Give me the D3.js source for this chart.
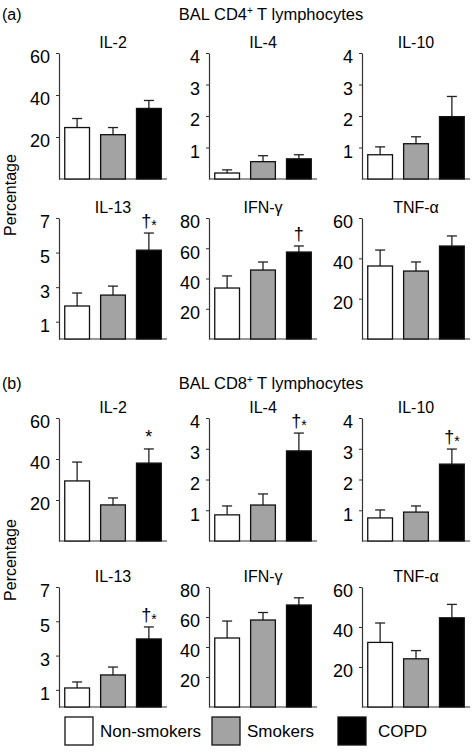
<!DOCTYPE html>
<html><head><meta charset="utf-8">
<script src="https://cdn.jsdelivr.net/npm/d3@7"></script>
<style>
body{margin:0;background:#fff}
text{font-family:"Liberation Sans",Arial,Helvetica,sans-serif;fill:#000}
</style>
</head><body>
<svg id="chart" width="473" height="754"></svg>
<script>
const groups = ["Non-smokers", "Smokers", "COPD"];
const cytokines = ["IL-2", "IL-4", "IL-10", "IL-13", "IFN-γ", "TNF-α"];
const yMax = [60, 4, 4, 7, 80, 60];
const tickValues = [[20,40,60],[1,2,3,4],[1,2,3,4],[1,3,5,7],[20,40,60,80],[20,40,60]];

// BAL CD4+ T lymphocytes (a)
const cd4Mean = [[24.5,21.1,33.6],[0.19,0.55,0.64],[0.77,1.12,1.98],[1.91,2.54,5.14],[33.7,45.6,57.5],[36.2,33.7,46.1]];
const cd4Sem  = [[4.3,3.4,3.8],[0.10,0.19,0.13],[0.25,0.22,0.64],[0.75,0.52,0.99],[8.0,5.3,4.0],[7.9,4.5,5.0]];
const cd4Marks = ["", "", "", "†*", "†", ""];

// BAL CD8+ T lymphocytes (b)
const cd8Mean = [[29.3,17.6,38.0],[0.85,1.17,2.93],[0.75,0.94,2.50],[1.11,1.87,3.97],[46.0,58.0,68.0],[32.3,24.1,44.6]];
const cd8Sem  = [[9.2,3.4,6.9],[0.29,0.36,0.58],[0.26,0.20,0.49],[0.35,0.46,0.70],[11.3,5.0,4.8],[9.7,4.1,6.7]];
const cd8Marks = ["*", "†*", "†*", "†*", "", ""];

const fills = ["#ffffff", "#a3a3a3", "#000000"];

const svg = d3.select("#chart");
const colX = [59, 209, 362];
const axisLen = 108;
const rows = [[53,179],[218,339],[418,541],[587,707]];

const panels = [
  {label:"(a)", title:["BAL CD4", "+", " T lymphocytes"], mean:cd4Mean, sem:cd4Sem, marks:cd4Marks, ty:20, rowOff:0, pctY:195},
  {label:"(b)", title:["BAL CD8", "+", " T lymphocytes"], mean:cd8Mean, sem:cd8Sem, marks:cd8Marks, ty:389, rowOff:2, pctY:560}
];

panels.forEach(P => {
  svg.append("text").attr("x", 2).attr("y", P.ty).attr("font-size", 16).text(P.label);
  const t = svg.append("text").attr("x", 271).attr("y", P.ty).attr("font-size", 16.5).attr("text-anchor","middle");
  t.append("tspan").text(P.title[0]);
  t.append("tspan").attr("font-size", 10).attr("dy", -6).text(P.title[1]);
  t.append("tspan").attr("dy", 6).text(P.title[2]);
  svg.append("text").attr("transform", `translate(16,${P.pctY}) rotate(-90)`)
    .attr("text-anchor","middle").attr("font-size", 16).text("Percentage");

  cytokines.forEach((cy, i) => {
    const r = rows[P.rowOff + Math.floor(i/3)];
    const ax = colX[i % 3];
    const y = d3.scaleLinear().domain([0, yMax[i]]).range([r[1], r[0]]);
    const x = d3.scaleBand().domain(groups).range([ax, ax + axisLen]).paddingInner(0.31).paddingOuter(0.16);
    const g = svg.append("g");

    g.append("text").attr("x", ax + axisLen/2).attr("y", r[0] - 5)
      .attr("text-anchor","middle").attr("font-size", 16).text(cy);

    const yAxis = g.append("g").attr("transform", `translate(${ax},0)`)
      .call(d3.axisLeft(y).tickValues(tickValues[i]).tickSize(3).tickSizeOuter(0).tickPadding(6).tickFormat(d3.format("d")));
    yAxis.select(".domain").attr("stroke", "#333").attr("stroke-width", 1.2);
    yAxis.selectAll(".tick line").attr("stroke", "#333");
    yAxis.selectAll(".tick text").attr("font-size", 18).attr("dy", "0.55em")
      .attr("font-family", "Liberation Sans, Arial, sans-serif").attr("fill","#000");

    g.append("line").attr("x1", ax).attr("x2", ax + axisLen).attr("y1", r[1]).attr("y2", r[1])
      .attr("stroke", "#333").attr("stroke-width", 1.2);

    const vals = groups.map((gr, k) => ({gr, m: P.mean[i][k], s: P.sem[i][k], k}));
    g.selectAll(".eb").data(vals).join("line")
      .attr("x1", d => x(d.gr) + x.bandwidth()/2).attr("x2", d => x(d.gr) + x.bandwidth()/2)
      .attr("y1", d => y(d.m)).attr("y2", d => y(d.m + d.s))
      .attr("stroke", "#222").attr("stroke-width", 1.3);
    g.selectAll(".cap").data(vals).join("line")
      .attr("x1", d => x(d.gr) + x.bandwidth()/2 - 5).attr("x2", d => x(d.gr) + x.bandwidth()/2 + 5)
      .attr("y1", d => y(d.m + d.s)).attr("y2", d => y(d.m + d.s))
      .attr("stroke", "#222").attr("stroke-width", 1.3);
    g.selectAll(".bar").data(vals).join("rect")
      .attr("x", d => x(d.gr)).attr("width", x.bandwidth())
      .attr("y", d => y(d.m)).attr("height", d => y(0) - y(d.m))
      .attr("fill", d => fills[d.k]).attr("stroke", "#111").attr("stroke-width", 1.3);

    const mk = P.marks[i];
    if (mk) {
      const top = vals[2];
      const cx = x(top.gr) + x.bandwidth()/2;
      const ty = y(top.m + top.s) - 6;
      const mt = g.append("text").attr("x", cx).attr("y", ty).attr("text-anchor","middle").attr("font-size", 18);
      if (mk === "†*") {
        mt.append("tspan").text("†");
        mt.append("tspan").attr("font-size", 14).attr("dy", 3).text("*");
      } else {
        mt.text(mk);
      }
    }
  });
});

// legend
const legendX = [65, 212, 338];
const legendTextX = [100, 247, 378];
groups.forEach((gname, k) => {
  svg.append("rect").attr("x", legendX[k]).attr("y", 717).attr("width", 28).attr("height", 28)
    .attr("fill", fills[k]).attr("stroke", "#111").attr("stroke-width", 1.3);
  svg.append("text").attr("x", legendTextX[k]).attr("y", 737).attr("font-size", 17).text(gname);
});
</script>
</body></html>
